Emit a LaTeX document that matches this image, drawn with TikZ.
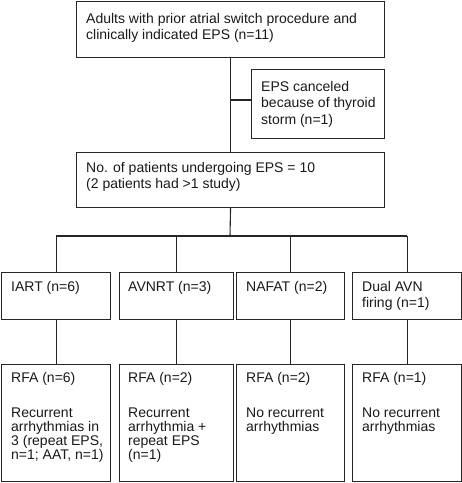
\documentclass[tikz,border=0pt]{standalone}
\usepackage{fontspec}
\setmainfont{Liberation Sans}
\begin{document}
\begin{tikzpicture}[x=1pt,y=-1pt,
  box/.style={draw=black!85,line width=1.1pt,rectangle,inner sep=0pt,anchor=north west},
  txt/.style={anchor=north west,inner sep=0pt,align=left,text=black!90,font=\fontsize{14}{16.5}\selectfont},
  txtb/.style={txt,font=\fontsize{14}{14}\selectfont},
  conn/.style={draw=black!85,line width=1.1pt}]
\useasboundingbox (0,0) rectangle (462,483);
% boxes
\node[box,minimum width=308pt,minimum height=56pt] (top) at (76,1) {};
\node[box,minimum width=133pt,minimum height=69pt] (cancel) at (251,69) {};
\node[box,minimum width=308pt,minimum height=55pt] (mid) at (76,152) {};
\node[box,minimum width=109pt,minimum height=47pt] (a1) at (1,272) {};
\node[box,minimum width=114pt,minimum height=47pt] (a2) at (119,272) {};
\node[box,minimum width=108pt,minimum height=47pt] (a3) at (236,272) {};
\node[box,minimum width=109pt,minimum height=47pt] (a4) at (352,272) {};
\node[box,minimum width=109pt,minimum height=117pt] (b1) at (1,364) {};
\node[box,minimum width=114pt,minimum height=117pt] (b2) at (119,364) {};
\node[box,minimum width=108pt,minimum height=117pt] (b3) at (236,364) {};
\node[box,minimum width=109pt,minimum height=117pt] (b4) at (352,364) {};
% texts
\node[txt] (ttop) at (86,13) {Adults with prior atrial switch procedure and\\clinically indicated EPS (n=11)};
\node[txt] (tcancel) at (261,81) {EPS canceled\\because of thyroid\\storm (n=1)};
\node[txt] (tmid) at (86,162) {No. of patients undergoing EPS = 10\\(2 patients had >1 study)};
\node[txt] (ta1) at (11,281) {IART (n=6)};
\node[txt] (ta2) at (128,281) {AVNRT (n=3)};
\node[txt] (ta3) at (246,281) {NAFAT (n=2)};
\node[txt] (ta4) at (362,281) {Dual AVN\\firing (n=1)};
\node[txtb] (tb1) at (11,372) {RFA (n=6)\\[21pt]Recurrent\\arrhythmias in\\3 (repeat EPS,\\n=1; AAT, n=1)};
\node[txtb] (tb2) at (128,372) {RFA (n=2)\\[21pt]Recurrent\\arrhythmia +\\repeat EPS\\(n=1)};
\node[txtb] (tb3) at (246,372) {RFA (n=2)\\[21pt]No recurrent\\arrhythmias};
\node[txtb] (tb4) at (362,372) {RFA (n=1)\\[21pt]No recurrent\\arrhythmias};
% connectors
\draw[conn] (top.south) -- (mid.north);
\coordinate (j1) at (230,100);
\draw[conn] (j1) -- (j1 -| cancel.west);
\coordinate (bus) at (230,236);
\draw[conn] (mid.south) -- (bus);
\draw[conn] (a1.north |- bus) -- (a4.north |- bus);
\draw[conn] (a1.north |- bus) -- (a1.north);
\draw[conn] (a2.north |- bus) -- (a2.north);
\draw[conn] (a3.north |- bus) -- (a3.north);
\draw[conn] (a4.north |- bus) -- (a4.north);
\draw[conn] (a1.south) -- (b1.north);
\draw[conn] (a2.south) -- (b2.north);
\draw[conn] (a3.south) -- (b3.north);
\draw[conn] (a4.south) -- (b4.north);
\end{tikzpicture}
\end{document}
